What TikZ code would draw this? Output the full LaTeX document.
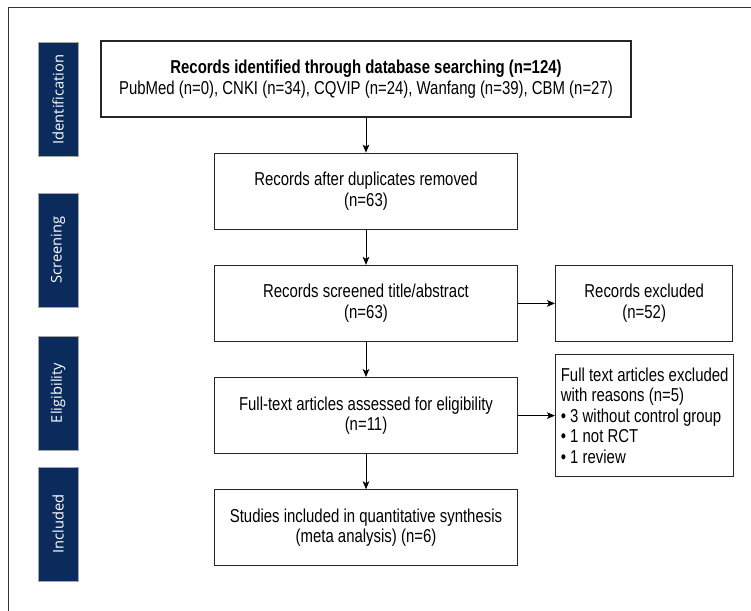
\documentclass[tikz,border=0pt]{standalone}
\usepackage{fontspec}
\setmainfont{Liberation Sans}[FakeStretch=0.8]
\newfontfamily\labelfont{Open Sans}
\usepackage{tikz}
\usetikzlibrary{arrows.meta,positioning}
\definecolor{stagenavy}{RGB}{10,43,92}

\begin{document}
\begin{tikzpicture}[
    x=0.75pt, y=-0.75pt,
    node distance=26.25pt and 27.75pt,
    mybox/.style={draw=black!85, line width=0.9pt, minimum width=227pt, minimum height=57pt, align=center, font=\fontsize{14}{15.4}\selectfont},
    mylabel/.style={fill=stagenavy, draw=black!35, line width=0.6pt, rotate=90, minimum width=85.5pt, minimum height=30pt, text=white, font=\labelfont\fontsize{11}{13}\selectfont},
    myedge/.style={-{Stealth[length=6pt,width=5pt,inset=1.5pt]}, line width=0.75pt}
]
\useasboundingbox (0,0) rectangle (751,611);
\draw[black!80, line width=0.7pt] (8,611) -- (8,7) -- (751,7);

% stages
\node[mylabel] (L1) at (58,99.5) {Identification};
\node[mylabel] (L2) at (58,250) {Screening};
\node[mylabel] (L3) at (58,393) {Eligibility};
\node[mylabel] (L4) at (58,524) {Included};

% flow
\node[mybox, minimum width=397.5pt] (R) at (366,79) {\textbf{Records identified through database searching (n=124)}\\PubMed (n=0), CNKI (n=34), CQVIP (n=24), Wanfang (n=39), CBM (n=27)};
\node[mybox] (D) [below=of R] {Records after duplicates removed\\(n=63)};
\node[mybox] (S) [below=of D] {Records screened title/abstract\\(n=63)};
\node[mybox, minimum width=133pt] (X) [right=of S] {Records excluded\\(n=52)};
\node[mybox] (F) [below=of S] {Full-text articles assessed for eligibility\\(n=11)};
\node[mybox, minimum width=133pt, minimum height=91.5pt, inner xsep=4pt, align=left] (Y) [right=of F] {Full text articles excluded\\with reasons (n=5)\\\textbullet\ 3 without control group\\\textbullet\ 1 not RCT\\\textbullet\ 1 review};
\node[mybox] (I) [below=of F] {Studies included in quantitative synthesis\\(meta analysis) (n=6)};

\draw[myedge] (R) -- (D);
\draw[myedge] (D) -- (S);
\draw[myedge] (S) -- (F);
\draw[myedge] (F) -- (I);
\draw[myedge] (S) -- (X);
\draw[myedge] (F) -- (Y);
\end{tikzpicture}
\end{document}
